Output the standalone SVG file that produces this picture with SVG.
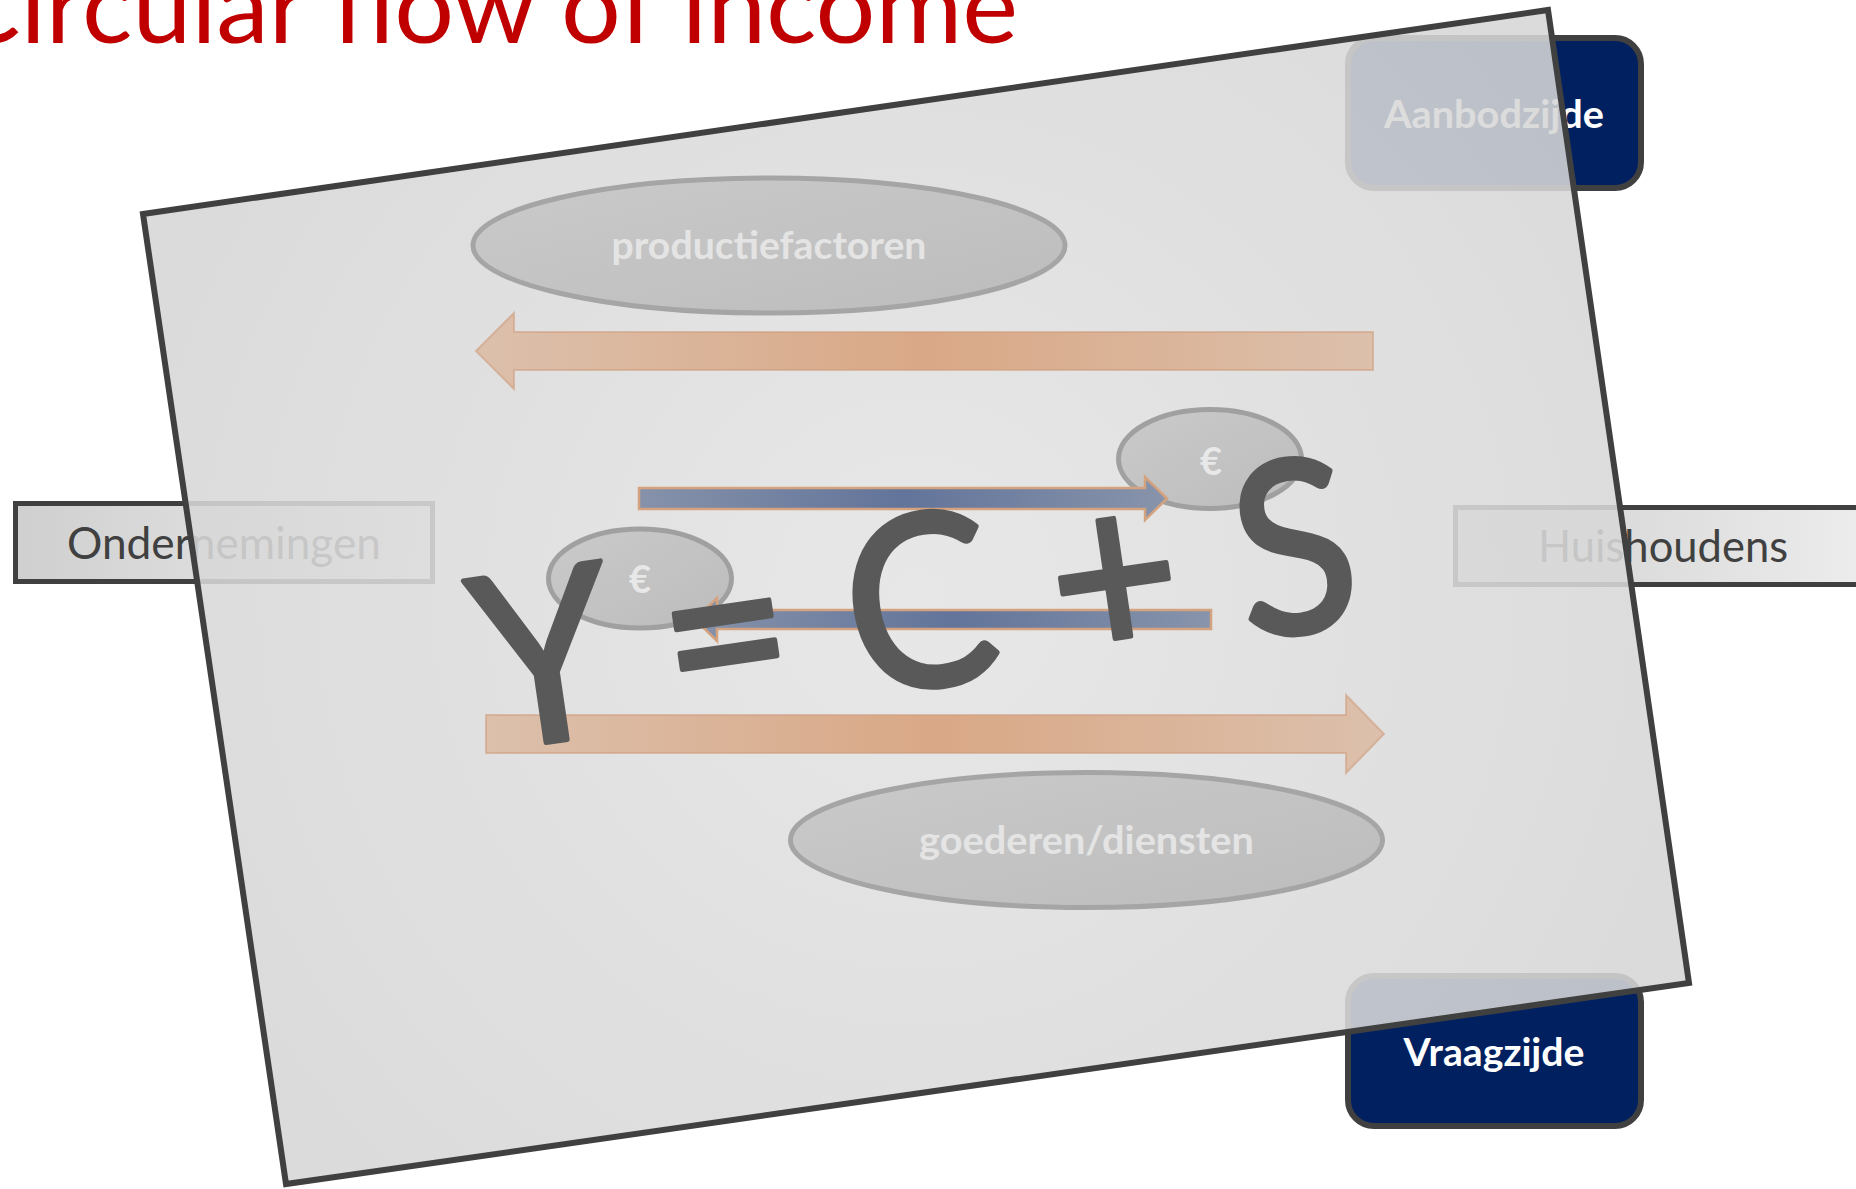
<svg xmlns="http://www.w3.org/2000/svg" width="1856" height="1189" viewBox="0 0 1856 1189">
<defs>
  <linearGradient id="boxGrad" x1="0" y1="0" x2="1" y2="0">
    <stop offset="0" stop-color="#cfcfcf"/>
    <stop offset="1" stop-color="#ededed"/>
  </linearGradient>
  <radialGradient id="sheetGrad" cx="916" cy="598" r="800" gradientUnits="userSpaceOnUse">
    <stop offset="0" stop-color="#e4e4e4"/>
    <stop offset="1" stop-color="#d6d6d6"/>
  </radialGradient>
  <linearGradient id="ellGrad" x1="0" y1="0" x2="1" y2="1">
    <stop offset="0" stop-color="#cacaca"/>
    <stop offset="1" stop-color="#bcbcbc"/>
  </linearGradient>
  <linearGradient id="orangeGrad" x1="0" y1="0" x2="1" y2="0">
    <stop offset="0" stop-color="#dcc0ac"/>
    <stop offset="0.5" stop-color="#d9a886"/>
    <stop offset="1" stop-color="#dcc0ac"/>
  </linearGradient>
  <linearGradient id="blueGrad" x1="0" y1="0" x2="1" y2="0">
    <stop offset="0" stop-color="#8692aa"/>
    <stop offset="0.5" stop-color="#62749a"/>
    <stop offset="1" stop-color="#8894ab"/>
  </linearGradient>
  <style>
    .box { fill: url(#boxGrad); stroke: #404040; stroke-width: 5; }
    .navy { fill: #002060; stroke: #404040; stroke-width: 6; }
    .boxText { font-family: Lato, "Liberation Sans", sans-serif; font-size: 45px; fill: #404040; text-anchor: middle; }
    .navyText { font-family: Lato, "Liberation Sans", sans-serif; font-size: 39px; font-weight: 700; fill: #ffffff; text-anchor: middle; }
    .ell { fill: url(#ellGrad); stroke: #a5a5a5; stroke-width: 5; }
    .ellText { font-family: Lato, "Liberation Sans", sans-serif; font-size: 39px; font-weight: 700; fill: #e4e4e4; text-anchor: middle; }
    .euro { fill: url(#ellGrad); stroke: #a0a0a0; stroke-width: 5; }
    .euroText { font-family: Lato, "Liberation Sans", sans-serif; font-size: 38px; font-weight: 700; fill: #e8e8e8; text-anchor: middle; }
    .orange { fill: url(#orangeGrad); stroke: #cf9f80; stroke-width: 2; stroke-opacity: 0.6; }
    .blue { fill: url(#blueGrad); stroke: #d4a27f; stroke-width: 2.5; }
  </style>
</defs>
<rect width="1856" height="1189" fill="#ffffff"/>

<text id="title" x="-50" y="43" font-family="Lato, 'Liberation Sans', sans-serif" font-size="103" fill="#c00000" textLength="1068" lengthAdjust="spacingAndGlyphs">Circular flow of income</text>

<g id="ondernemingen">
  <rect class="box" x="15.5" y="503.5" width="417" height="78"/>
  <text class="boxText" x="224" y="559" textLength="314" lengthAdjust="spacingAndGlyphs">Ondernemingen</text>
</g>
<g id="huishoudens">
  <rect class="box" x="1455.5" y="507.5" width="417" height="77"/>
  <text class="boxText" x="1663" y="562" textLength="250" lengthAdjust="spacingAndGlyphs">Huishoudens</text>
</g>
<g id="aanbodzijde">
  <rect class="navy" x="1348" y="38" width="293" height="150" rx="26" ry="26"/>
  <text class="navyText" x="1494" y="128" textLength="220" lengthAdjust="spacingAndGlyphs">Aanbodzijde</text>
</g>
<g id="vraagzijde">
  <rect class="navy" x="1348" y="976" width="293" height="150" rx="26" ry="26"/>
  <text class="navyText" x="1494" y="1066" textLength="181" lengthAdjust="spacingAndGlyphs">Vraagzijde</text>
</g>

<g id="sheet">
  <polygon points="143,214 1548,10 1689,983 286,1184" fill="url(#sheetGrad)" fill-opacity="0.88" stroke="#404040" stroke-width="6" stroke-linejoin="miter"/>
</g>

<g id="productiefactoren">
  <ellipse class="ell" cx="769" cy="245.5" rx="296" ry="67.5"/>
  <text class="ellText" x="769" y="259" textLength="315" lengthAdjust="spacingAndGlyphs">productiefactoren</text>
</g>
<g id="goederen-diensten">
  <ellipse class="ell" cx="1086.5" cy="840" rx="296" ry="67.5"/>
  <text class="ellText" x="1086.5" y="854" textLength="335" lengthAdjust="spacingAndGlyphs">goederen/diensten</text>
</g>
<g id="euro-1">
  <ellipse class="euro" cx="1210" cy="459" rx="91.5" ry="49.5"/>
  <text class="euroText" x="1211" y="475">€</text>
</g>
<g id="euro-2">
  <ellipse class="euro" cx="640" cy="578.5" rx="91.5" ry="49.5"/>
  <text class="euroText" x="640" y="593">€</text>
</g>

<g id="connectors">
  <polygon class="orange" points="476,351 514,313 514,332 1373,332 1373,370 514,370 514,389"/>
  <polygon class="blue" points="639,488 1145,488 1145,477 1167,498.5 1145,520 1145,509 639,509"/>
  <polygon class="blue" points="1211,610 717,610 717,598 695,619.5 717,641 717,629 1211,629"/>
  <polygon class="orange" points="486,715 1346,715 1346,695 1384,734 1346,773 1346,753 486,753"/>
</g>

<g id="formula">
  <text x="927" y="687" transform="rotate(-8.3 927 687)" font-family="Lato, 'Liberation Sans', sans-serif" font-size="240" font-weight="400" fill="#595959" stroke="#595959" stroke-width="5" stroke-linejoin="round" text-anchor="middle" textLength="888" lengthAdjust="spacingAndGlyphs">Y = C + S</text>
</g>
</svg>
